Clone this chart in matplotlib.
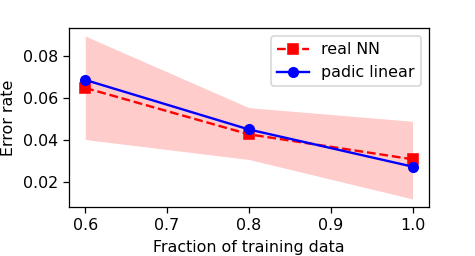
import matplotlib
matplotlib.use("Agg")
import matplotlib.pyplot as plt

fractions = [0.6, 0.8, 1.0]
real_nn = [0.0646, 0.0425, 0.0306]
padic_linear = [0.0684, 0.0448, 0.0271]
band_upper = [0.0893, 0.0552, 0.0487]
band_lower = [0.0400, 0.0305, 0.0117]

# the reference looks like a higher-dpi render scaled down
scale = 1.14
fig = plt.figure(figsize=(4.75 / scale, 2.56 / scale), dpi=100 * scale)
ax = fig.add_axes([0.145, 0.191, 0.758, 0.700])

ax.fill_between(fractions, band_lower, band_upper, color="red", alpha=0.2, linewidth=0)
ax.plot(fractions, real_nn, "rs--", label="real NN")
ax.plot(fractions, padic_linear, "bo-", label="padic linear")

ax.set_xlabel("Fraction of training data")
ax.set_ylabel("Error rate")
ax.set_xticks([0.6, 0.7, 0.8, 0.9, 1.0])
ax.set_yticks([0.02, 0.04, 0.06, 0.08])
ax.legend(loc="upper right")

fig.savefig("out.png", dpi=100 * scale)
